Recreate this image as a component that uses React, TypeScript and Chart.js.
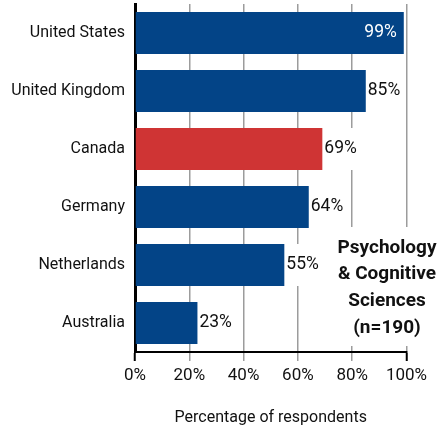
import React, { useEffect, useRef } from "react";
import { Chart, registerables } from "chart.js";

Chart.register(...registerables);

const categories = ["United States", "United Kingdom", "Canada", "Germany", "Netherlands", "Australia"];
const values = [99, 85, 69, 64, 55, 23];
const highlight = "Canada";
const xTicks = [0, 20, 40, 60, 80, 100];
const annotationLines = ["Psychology", "& Cognitive", "Sciences", "(n=190)"];
const axisTitle = "Percentage of respondents";

const BLUE = "#034487";
const RED = "#CF3434";
const FONT = "Roboto, Lato, sans-serif";

export default function App() {
  const ref = useRef<HTMLCanvasElement | null>(null);

  useEffect(() => {
    document.body.style.margin = "0";
    const canvas = ref.current;
    if (!canvas) return;

    const valueLabels = {
      id: "valueLabels",
      afterDatasetsDraw(chart: any) {
        const ctx = chart.ctx;
        const meta = chart.getDatasetMeta(0);
        ctx.save();
        ctx.font = `17.5px ${FONT}`;
        ctx.textBaseline = "middle";
        meta.data.forEach((el: any, i: number) => {
          const v = values[i];
          const txt = `${v}%`;
          if (v >= 95) {
            ctx.fillStyle = "#ffffff";
            ctx.textAlign = "right";
            ctx.fillText(txt, el.x - 7, el.y);
          } else {
            const w = ctx.measureText(txt).width;
            ctx.fillStyle = "#ffffff";
            ctx.fillRect(el.x + 1, el.y - el.height / 2, w + 3, el.height);
            ctx.fillStyle = "#111111";
            ctx.textAlign = "left";
            ctx.fillText(txt, el.x + 2, el.y);
          }
        });
        ctx.restore();
      },
    };

    const annotation = {
      id: "annotation",
      afterDraw(chart: any) {
        const ctx = chart.ctx;
        const ca = chart.chartArea;
        ctx.save();
        ctx.fillStyle = "#ffffff";
        ctx.fillRect(330, 227, chart.width - 330, ca.bottom - 6 - 227);
        ctx.fillStyle = "#111111";
        ctx.font = `bold 19px ${FONT}`;
        ctx.textAlign = "center";
        ctx.textBaseline = "middle";
        annotationLines.forEach((line, i) => {
          ctx.fillText(line, 387, 248 + i * 26.7);
        });
        ctx.restore();
      },
    };

    const chart = new Chart(canvas, {
      type: "bar",
      data: {
        labels: categories,
        datasets: [
          {
            data: values,
            backgroundColor: categories.map((c) => (c === highlight ? RED : BLUE)),
            borderWidth: 0,
            categoryPercentage: 1,
            barPercentage: 0.724,
          },
        ],
      },
      options: {
        indexAxis: "y",
        animation: false,
        responsive: false,
        maintainAspectRatio: false,
        layout: { padding: { top: 4, right: 36.5, left: 0, bottom: 0 } },
        plugins: {
          legend: { display: false },
          tooltip: { enabled: false },
        },
        scales: {
          x: {
            type: "linear",
            min: 0,
            max: 100,
            afterBuildTicks(scale: any) {
              scale.ticks = xTicks.map((v) => ({ value: v }));
            },
            afterFit(scale: any) {
              scale.height = 82;
              scale.paddingLeft = 0;
              scale.paddingRight = 0;
            },
            ticks: {
              callback: (v: any) => `${v}%`,
              color: "#111111",
              font: { family: FONT, size: 17 },
              padding: 5,
              maxRotation: 0,
            },
            grid: {
              color: "#9c9c9c",
              lineWidth: 1.5,
              tickLength: 9,
              tickColor: (c: any) => (c.index === 0 || c.index === xTicks.length - 1 ? "#000000" : "#9c9c9c"),
              tickWidth: (c: any) => (c.index === 0 || c.index === xTicks.length - 1 ? 2 : 1.5),
            },
            border: { display: true, color: "#000000", width: 2 },
            title: {
              display: true,
              text: axisTitle,
              color: "#111111",
              font: { family: FONT, size: 16 },
              padding: { top: 0, bottom: 6 },
            },
          },
          y: {
            type: "category",
            afterFit(scale: any) {
              scale.width = 135;
              scale.paddingTop = 0;
              scale.paddingBottom = 0;
            },
            ticks: {
              color: "#111111",
              font: { family: FONT, size: 16 },
              padding: 10,
            },
            grid: { display: true, drawOnChartArea: false, drawTicks: false },
            border: { display: true, color: "#000000", width: 3 },
          },
        },
      },
      plugins: [valueLabels, annotation],
    } as any);

    return () => chart.destroy();
  }, []);

  return (
    <div style={{ width: 443, height: 434 }}>
      <canvas ref={ref} width={443} height={434} style={{ display: "block" }} />
    </div>
  );
}
